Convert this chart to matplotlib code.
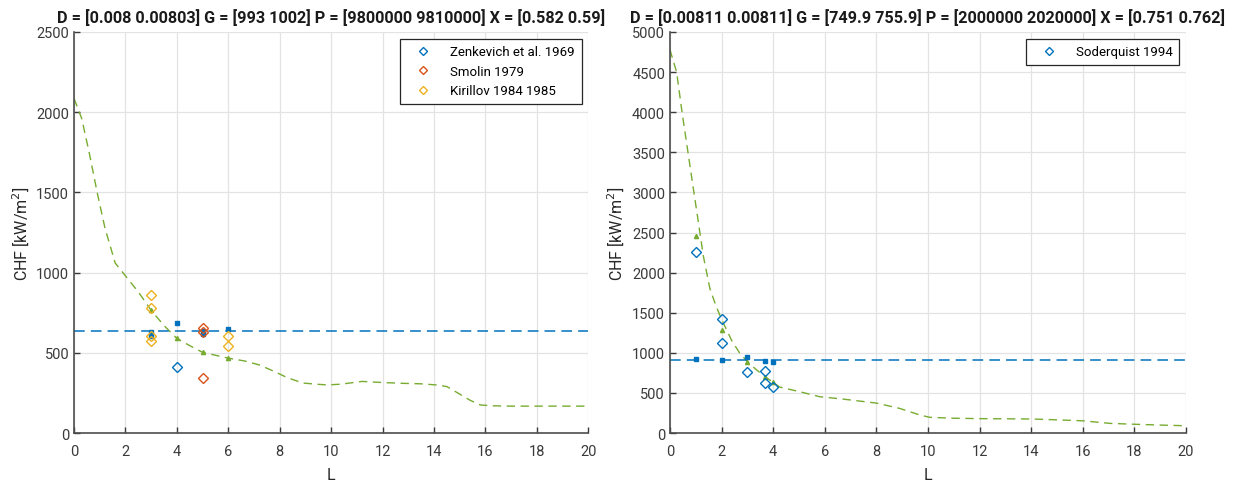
import numpy as np
import matplotlib.pyplot as plt

plt.rcParams['font.family'] = ['Roboto', 'DejaVu Sans']

blue = '#0072BD'
red = '#D95319'
orange = '#EDB120'
green = '#77AC30'

# left panel
titleA = 'D = [0.008 0.00803] G = [993 1002] P = [9800000 9810000] X = [0.582 0.59]'
curveA_L = [0, 0.3, 0.6, 0.9, 1.2, 1.6, 2.0, 2.5, 3.0, 3.5, 4.0, 4.5, 5.0, 5.5, 6.0, 6.65,
            7.2, 7.75, 8.3, 8.9, 9.4, 9.85, 10.4, 11.2, 12.0, 12.8, 13.5, 14.1, 14.5, 15.0,
            15.4, 15.8, 16.3, 17.0, 18.0, 19.0, 20.0]
curveA_chf = [2085, 1960, 1740, 1500, 1280, 1060, 980, 880, 765, 670, 590, 545, 503, 485, 467, 449,
              425, 387, 345, 312, 305, 300, 305, 322, 315, 310, 307, 300, 290, 243,
              205, 175, 170, 168, 168, 168, 168]
predA_L = [3, 4, 5, 6]
predA_green = [767, 590, 503, 467]
predA_blue_L = [3, 3, 4, 5, 5, 6]
predA_blue = [630, 605, 686, 638, 620, 648]
lineA = 634
zenk_L = [4]
zenk_chf = [411]
smolin_L = [5, 5, 5]
smolin_chf = [652, 630, 343]
kiril_L = [3, 3, 3, 3, 6, 6]
kiril_chf = [862, 779, 605, 574, 604, 544]

# right panel
titleB = 'D = [0.00811 0.00811] G = [749.9 755.9] P = [2000000 2020000] X = [0.751 0.762]'
curveB_L = [0, 0.26, 0.47, 0.7, 0.93, 1.07, 1.3, 1.55, 1.78, 2.0, 2.4, 2.7, 3.0, 3.35, 3.7, 4.0,
            4.26, 5.04, 5.81, 6.7, 8.0, 8.9, 9.7, 10.08, 11.0, 12.0, 13.0, 14.07, 15.0, 16.0,
            17.05, 18.0, 19.0, 20.0]
curveB_chf = [4780, 4500, 4000, 3500, 3000, 2700, 2200, 1800, 1590, 1420, 1150, 1000, 890, 790, 700, 632,
              573, 515, 453, 424, 374, 308, 224, 196, 185, 180, 178, 175, 165, 153,
              121, 110, 100, 91]
predB_L = [1, 2, 3, 3.7, 4]
predB_green = [2460, 1284, 890, 698, 632]
predB_blue = [923, 914, 948, 902, 890]
lineB = 910
soder_L = [1, 2, 2, 3, 3.7, 3.7, 4]
soder_chf = [2260, 1421, 1122, 757, 777, 620, 570]


def style(ax, ymax, ystep):
    ax.set_xlim(0, 20)
    ax.set_ylim(0, ymax)
    ax.set_xticks(np.arange(0, 21, 2))
    ax.set_yticks(np.arange(0, ymax + 1, ystep))
    ax.grid(True, color='#e3e3e3', linewidth=0.9)
    ax.set_axisbelow(True)
    for s in ['top', 'right']:
        ax.spines[s].set_visible(False)
    for s in ['left', 'bottom']:
        ax.spines[s].set_color('#4d4d4d')
        ax.spines[s].set_linewidth(1.2)
    ax.tick_params(direction='in', length=4, colors='#3a3a3a', labelsize=10.5, width=1)
    ax.tick_params(axis='x', pad=8)
    ax.set_xlabel('L', fontsize=11.5, color='#262626', labelpad=6)
    ax.set_ylabel('CHF [kW/m$^2$]', fontsize=11.5, color='#262626')


fig = plt.figure(figsize=(12.36, 4.85), dpi=100)
ax1 = fig.add_axes([0.0599, 0.105, 0.416, 0.827])
ax2 = fig.add_axes([0.542, 0.105, 0.4175, 0.827])

mk = dict(marker='D', markersize=4.6, markerfacecolor='none', markeredgewidth=1.0, linestyle='none')

ax1.plot(curveA_L, curveA_chf, '--', color=green, lw=1, dashes=(6, 4))
ax1.axhline(lineA, color=blue, lw=1.1, linestyle='--', dashes=(7, 4))
ax1.plot(predA_L, predA_green, '^', color=green, markersize=3, linestyle='none')
ax1.plot(predA_blue_L, predA_blue, 's', color=blue, markersize=3, linestyle='none')
ax1.plot(zenk_L, zenk_chf, color=blue, markeredgecolor=blue, label='Zenkevich et al. 1969', **mk)
ax1.plot(smolin_L, smolin_chf, color=red, markeredgecolor=red, label='Smolin 1979', **mk)
ax1.plot(kiril_L, kiril_chf, color=orange, markeredgecolor=orange, label='Kirillov 1984 1985', **mk)
style(ax1, 2500, 500)
ax1.set_title(titleA, fontsize=11.7, fontweight='bold', color='#1a1a1a', pad=7)
leg1 = ax1.legend(loc='upper right', fontsize=9.5, markerscale=0.8, fancybox=False,
                  edgecolor='#262626', framealpha=1, handlelength=2.5, borderpad=0.5)
leg1.get_frame().set_linewidth(0.9)

ax2.plot(curveB_L, curveB_chf, '--', color=green, lw=1, dashes=(6, 4))
ax2.axhline(lineB, color=blue, lw=1.1, linestyle='--', dashes=(7, 4))
ax2.plot(predB_L, predB_green, '^', color=green, markersize=3, linestyle='none')
ax2.plot(predB_L, predB_blue, 's', color=blue, markersize=3, linestyle='none')
ax2.plot(soder_L, soder_chf, color=blue, markeredgecolor=blue, label='Soderquist 1994', **mk)
style(ax2, 5000, 500)
ax2.set_title(titleB, fontsize=11.7, fontweight='bold', color='#1a1a1a', pad=7)
leg2 = ax2.legend(loc='upper right', fontsize=9.5, markerscale=0.8, fancybox=False,
                  edgecolor='#262626', framealpha=1, handlelength=2.5, borderpad=0.5)
leg2.get_frame().set_linewidth(0.9)

fig.savefig('out.png', dpi=100)
